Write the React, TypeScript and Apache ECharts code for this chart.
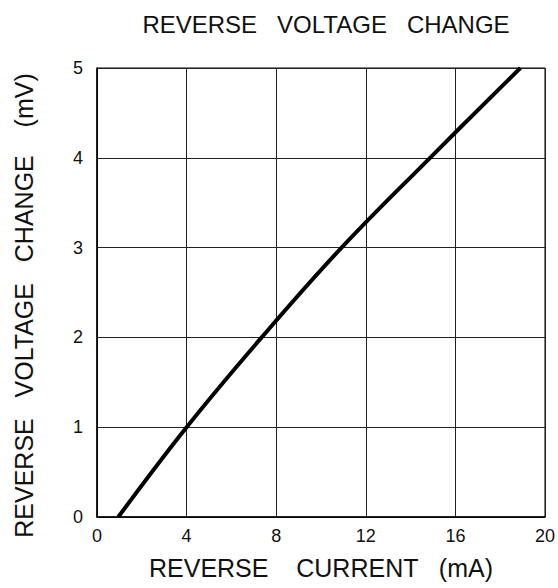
import React, { useEffect, useRef } from "react";
import * as echarts from "echarts";

const chartTitle = "REVERSE   VOLTAGE   CHANGE";
const xAxisTitle = "REVERSE    CURRENT   (mA)";
const yAxisTitle = "REVERSE   VOLTAGE   CHANGE    (mV)";

const reverseCurrentMA = [0.95, 4, 7.35, 10.92, 14.87, 18.9];
const voltageChangeMV = [0, 1, 2, 3, 4, 5];

const xTicks = [0, 4, 8, 12, 16, 20];
const yTicks = [0, 1, 2, 3, 4, 5];

const FONT = "Liberation Sans";

export default function App() {
  const ref = useRef<HTMLDivElement>(null);
  useEffect(() => {
    if (!ref.current) return;
    const chart = echarts.init(ref.current, undefined, { renderer: "svg" });
    const points = reverseCurrentMA.map((x, i) => [x, voltageChangeMV[i]]);
    chart.setOption({
      animation: false,
      backgroundColor: "#fff",
      title: {
        text: chartTitle,
        left: 321,
        top: 7,
        textAlign: "center",
        textStyle: { fontFamily: FONT, fontSize: 24, fontWeight: "normal", color: "#111" },
      },
      grid: {
        left: 97,
        right: 13,
        top: 68,
        bottom: 71,
        show: true,
        borderColor: "#000",
        borderWidth: 1,
        backgroundColor: "transparent",
      },
      xAxis: {
        type: "value",
        min: xTicks[0],
        max: xTicks[xTicks.length - 1],
        interval: 4,
        name: xAxisTitle,
        nameLocation: "middle",
        nameGap: 38,
        nameTextStyle: { fontFamily: FONT, fontSize: 25, color: "#111" },
        axisLine: { show: true, lineStyle: { color: "#000", width: 1.5 } },
        axisTick: { show: false },
        axisLabel: { fontFamily: FONT, fontSize: 18, color: "#111", margin: 10 },
        splitLine: { show: true, lineStyle: { color: "#222", width: 1 } },
      },
      yAxis: {
        type: "value",
        min: yTicks[0],
        max: yTicks[yTicks.length - 1],
        interval: 1,
        name: yAxisTitle,
        nameLocation: "middle",
        nameGap: 61,
        nameTextStyle: { fontFamily: FONT, fontSize: 25, color: "#111", padding: [0, 26, 0, 0] },
        axisLine: { show: true, lineStyle: { color: "#000", width: 1.5 } },
        axisTick: { show: false },
        axisLabel: { fontFamily: FONT, fontSize: 18, color: "#111", margin: 14 },
        splitLine: { show: true, lineStyle: { color: "#222", width: 1 } },
      },
      series: [
        {
          type: "line",
          data: points,
          showSymbol: false,
          smooth: 0.4,
          lineStyle: { color: "#000", width: 4 },
        },
      ],
    });
    return () => chart.dispose();
  }, []);
  return <div ref={ref} style={{ width: 558, height: 588, position: "absolute", left: 0, top: 0 }} />;
}
